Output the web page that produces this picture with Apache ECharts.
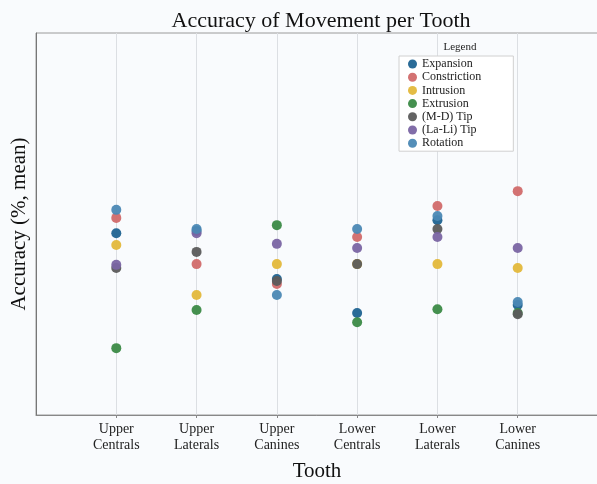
<!DOCTYPE html>
<html>
<head>
<meta charset="utf-8">
<script src="https://cdn.jsdelivr.net/npm/echarts@6/dist/echarts.min.js"></script>
<style>
  html, body { margin: 0; padding: 0; background: #f9fbfd; }
  #main { width: 597px; height: 484px; }
</style>
</head>
<body>
<div id="main"></div>
<script>
// teeth along the x axis (blank ends give the padding left and right)
var teeth = ['', 'Upper\nCentrals', 'Upper\nLaterals', 'Upper\nCanines',
             'Lower\nCentrals', 'Lower\nLaterals', 'Lower\nCanines', ''];

// mean accuracy per movement, one value per tooth
var expansion   = [47.6, 48.2, 35.6, 26.7, 51.0, 28.8];
var constriction = [51.6, 39.5, 34.3, 46.6, 54.7, 58.6];
var intrusion   = [44.5, 31.4, 39.5, 39.5, 39.5, 38.5];
var extrusion   = [17.5, 27.5, 49.7, 24.3, 27.7, 26.7];
var mdTip       = [38.5, 42.7, 35.1, 39.5, 48.7, 26.4];
var laliTip     = [39.3, 47.6, 44.8, 43.7, 46.6, 43.7];
var rotation    = [53.7, 48.7, 31.4, 48.7, 52.1, 29.6];

var movements = ['Expansion', 'Constriction', 'Intrusion', 'Extrusion', '(M-D) Tip', '(La-Li) Tip', 'Rotation'];
var colors = ['#1f6391', '#d16a6a', '#e3b83b', '#3b8a46', '#5b5b5b', '#7a65a3', '#4b88b4'];
var values = [expansion, constriction, intrusion, extrusion, mdTip, laliTip, rotation];

var serif = 'Liberation Serif';

var series = [];
for (var i = 0; i < movements.length; i++) {
    var pts = [];
    for (var j = 0; j < values[i].length; j++) {
        pts.push([j + 1, values[i][j]]);
    }
    series.push({
        name: movements[i],
        type: 'scatter',
        symbolSize: 10,
        itemStyle: { color: colors[i], opacity: 0.95 },
        data: pts
    });
}

var chart = echarts.init(document.getElementById('main'));
chart.setOption({
    backgroundColor: '#f9fbfd',
    animation: false,
    color: colors,
    title: [{
        text: 'Accuracy of Movement per Tooth',
        left: 316,
        top: 5,
        textAlign: 'center',
        textStyle: { fontFamily: serif, fontSize: 22, fontWeight: 'normal', color: '#111' }
    }, {
        text: 'Legend',
        left: 455,
        top: 37,
        textAlign: 'center',
        textStyle: { fontFamily: serif, fontSize: 11, fontWeight: 'normal', color: '#222' }
    }],
    legend: {
        orient: 'vertical',
        left: 399,
        top: 56,
        padding: [2, 32, 2, 9],
        itemGap: 1.2,
        itemWidth: 9,
        itemHeight: 11,
        icon: 'circle',
        backgroundColor: '#ffffff',
        borderColor: '#d0d0d0',
        borderWidth: 1,
        textStyle: { fontFamily: serif, fontSize: 12, lineHeight: 12, color: '#222' },
        data: movements
    },
    grid: {
        left: 36,
        top: 33,
        right: -1,
        bottom: 69,
        outerBoundsMode: 'none',
        show: true,
        borderColor: '#9a9a9a',
        borderWidth: 1
    },
    xAxis: {
        type: 'category',
        data: teeth,
        boundaryGap: false,
        name: 'Tooth',
        nameLocation: 'middle',
        nameGap: 46,
        nameTextStyle: { fontFamily: serif, fontSize: 21, color: '#111' },
        axisLine: { lineStyle: { color: '#888' } },
        axisTick: {
            length: 3,
            interval: function (idx, val) { return val !== ''; },
            lineStyle: { color: '#888' }
        },
        axisLabel: { fontFamily: serif, fontSize: 14, lineHeight: 16, color: '#222', margin: 6 },
        splitLine: { show: true, lineStyle: { color: '#dcdfe3' } }
    },
    yAxis: {
        type: 'value',
        min: 0,
        max: 100,
        name: 'Accuracy (%, mean)',
        nameLocation: 'middle',
        nameGap: 6,
        nameTextStyle: { fontFamily: serif, fontSize: 21, color: '#111' },
        axisLine: { show: true, lineStyle: { color: '#777' } },
        axisTick: { show: false },
        axisLabel: { show: false },
        splitLine: { show: false }
    },
    series: series
});
</script>
</body>
</html>
